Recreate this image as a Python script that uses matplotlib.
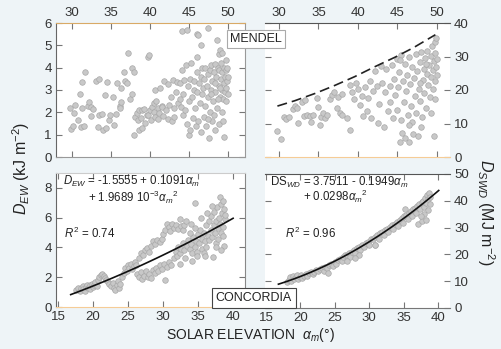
import numpy as np
import matplotlib.pyplot as plt

plt.rcParams['font.family'] = ['Liberation Sans', 'DejaVu Sans']
plt.rcParams['mathtext.fontset'] = 'custom'
plt.rcParams['mathtext.rm'] = 'Liberation Sans'
plt.rcParams['mathtext.it'] = 'Liberation Sans:italic'

# --- data ---
# MENDEL, D_EW (kJ m-2) vs solar elevation
mendel_ew = [
    (29.8, 2.2), (29.9, 1.25), (30.1, 1.38), (30.3, 1.95), (30.4, 2.35), (30.8, 1.65), (31.0, 2.8),
    (31.2, 1.34), (31.3, 3.35), (31.3, 2.2), (31.5, 1.4), (31.7, 3.8), (32.0, 2.3), (32.2, 2.45),
    (32.5, 2.25), (32.5, 1.85), (32.7, 2.15), (33.1, 3.4), (33.3, 1.34), (33.5, 3.5), (33.5, 1.88),
    (33.9, 1.93), (34.0, 1.2), (34.2, 2.78), (34.4, 1.3), (34.5, 3.36), (34.8, 1.66), (34.9, 1.88),
    (35.3, 2.7), (35.4, 1.43), (35.7, 1.93), (35.8, 3.3), (36.1, 2.28), (36.2, 2.2), (36.3, 2.46),
    (36.3, 3.1), (36.7, 3.8), (36.8, 3.4), (37.1, 3.3), (37.2, 4.66), (37.5, 2.6), (37.7, 2.8),
    (37.7, 4.0), (38.0, 3.8), (37.9, 0.98),
    (38.1, 1.8), (38.3, 1.95), (38.5, 1.66), (38.6, 2.1), (38.6, 1.2), (38.8, 1.75), (39.0, 2.1),
    (39.0, 1.3), (39.3, 2.15), (39.4, 1.52), (39.6, 1.9), (39.8, 1.88), (39.8, 4.5), (39.9, 4.57),
    (40.0, 2.1), (40.1, 1.65), (40.3, 2.25), (40.5, 2.0), (40.5, 2.4), (40.7, 1.8), (40.8, 2.5),
    (40.7, 3.0), (41.0, 2.2), (41.0, 1.7), (41.2, 1.95), (41.3, 3.1), (41.5, 2.3), (41.6, 2.25),
    (41.7, 1.85), (41.8, 3.4), (42.0, 2.1), (42.3, 1.7), (42.3, 3.25), (42.5, 2.35), (42.7, 2.7),
    (42.8, 1.6), (42.9, 3.45), (43.1, 2.2), (43.1, 1.8), (43.3, 2.9), (43.5, 3.35), (43.6, 2.4),
    (43.8, 2.6), (43.9, 3.3), (44.0, 2.25), (44.1, 3.9), (44.1, 5.62),
    (44.2, 1.9), (44.3, 2.8), (44.4, 3.45), (44.5, 2.1), (44.6, 4.1), (44.8, 5.7), (44.8, 1.5),
    (44.9, 3.2), (45.0, 1.0), (45.0, 2.5), (45.2, 3.5), (45.2, 1.2), (45.3, 4.2), (45.4, 2.7),
    (45.5, 1.75), (45.6, 3.0), (45.7, 3.4), (45.8, 2.2), (45.9, 1.4), (46.0, 5.5), (46.0, 3.8),
    (46.1, 4.48), (46.1, 2.9), (46.2, 5.45), (46.2, 1.6), (46.3, 3.3), (46.4, 2.4), (46.5, 5.0),
    (46.5, 3.6), (46.6, 1.1), (46.7, 2.8), (46.7, 4.0), (46.8, 3.1), (46.9, 1.8), (47.0, 3.5),
    (47.1, 2.3), (47.1, 4.0), (47.2, 1.4), (47.3, 3.2), (47.4, 2.7), (47.5, 5.78), (47.5, 3.7),
    (47.6, 0.85), (47.7, 2.0), (47.7, 3.9), (47.8, 3.0), (47.9, 4.1), (48.0, 1.6), (48.0, 3.4),
    (48.1, 2.5), (48.2, 3.8), (48.3, 4.15), (48.3, 1.2), (48.4, 2.9), (48.5, 3.6), (48.6, 5.24),
    (48.6, 2.2), (48.7, 4.0), (48.8, 3.2), (48.8, 4.6), (48.9, 1.5), (48.9, 3.9), (49.0, 2.7),
    (49.0, 4.8), (49.1, 3.5), (49.1, 4.2), (49.2, 2.0), (49.2, 3.0), (49.3, 3.8), (49.3, 4.66),
    (49.4, 2.6), (49.4, 1.6), (49.5, 3.3), (49.5, 0.9), (49.5, 4.0), (49.6, 2.9), (49.6, 3.6),
    (49.7, 4.34), (49.7, 3.1), (49.8, 2.5), (49.8, 3.9), (49.9, 3.4), (49.9, 3.99), (50.0, 2.8),
    (50.0, 3.6), (48.4, 3.3), (47.9, 2.8), (48.7, 2.6), (49.0, 3.1), (48.2, 1.9), (47.4, 1.7),
]

# MENDEL, D_SWD (MJ m-2) vs solar elevation
mendel_swd = [
    (29.8, 7.8), (30.2, 5.4), (30.6, 11.8), (30.9, 11.3), (31.3, 12.0), (31.8, 14.3), (32.0, 15.2),
    (32.3, 14.6), (32.4, 10.1), (32.9, 16.3), (33.2, 12.1), (33.3, 16.9), (33.5, 12.5), (33.9, 12.2),
    (34.1, 10.5), (34.3, 12.4), (34.8, 17.6), (35.0, 14.8), (35.2, 9.6), (35.3, 12.0), (35.6, 13.0),
    (35.8, 11.6), (36.1, 12.6), (36.5, 17.3), (36.7, 18.5), (37.0, 19.3), (37.3, 14.6), (37.5, 17.8),
    (37.7, 13.2), (38.0, 18.8), (38.0, 12.5), (38.6, 11.6), (39.0, 8.0), (39.0, 21.5), (39.3, 19.5),
    (39.5, 17.2), (39.8, 22.1), (40.0, 20.4), (40.2, 15.4), (40.5, 18.2), (40.6, 12.2), (40.9, 20.9),
    (41.1, 13.8), (41.3, 17.5), (41.5, 22.6), (41.6, 11.5), (41.9, 19.8), (42.2, 25.6), (42.4, 21.3),
    (42.5, 10.1), (42.7, 15.9), (42.9, 27.2), (43.1, 22.0), (43.3, 8.9), (43.4, 19.4), (43.6, 26.3),
    (43.8, 13.6), (44.0, 21.1), (44.1, 16.5), (44.3, 27.5), (44.4, 11.5), (44.6, 23.4), (44.7, 18.6),
    (44.9, 29.2), (45.0, 14.1), (45.1, 20.8), (45.2, 25.4), (45.4, 11.0), (45.5, 30.5), (45.6, 7.1),
    (45.7, 22.6), (45.8, 16.4), (45.9, 27.9), (46.0, 5.8), (46.1, 19.6), (46.2, 24.4), (46.3, 12.6),
    (46.4, 29.8), (46.5, 4.6), (46.6, 21.7), (46.7, 15.1), (46.8, 26.8), (46.9, 10.4), (47.0, 6.8),
    (47.1, 23.5), (47.2, 18.2), (47.3, 30.7), (47.4, 13.0), (47.5, 25.6), (47.6, 6.3), (47.7, 20.4),
    (47.8, 28.4), (47.9, 16.6), (48.0, 31.2), (48.1, 11.8), (48.2, 23.0), (48.3, 26.2), (48.4, 19.0),
    (48.5, 29.6), (48.6, 14.5), (48.7, 24.8), (48.8, 31.6), (48.9, 21.4), (49.0, 27.4), (49.1, 17.8),
    (49.2, 30.2), (49.3, 23.8), (49.4, 33.0), (49.5, 25.9), (49.5, 20.2), (49.6, 6.4), (49.6, 28.8),
    (49.7, 17.4), (49.7, 34.4), (49.8, 22.6), (49.8, 31.0), (49.9, 26.9), (49.9, 35.6), (50.0, 24.5),
    (50.0, 29.4), (48.6, 27.9), (47.9, 22.1), (49.3, 13.2), (48.0, 9.0), (46.5, 9.5), (45.3, 4.5),
    (45.3, 29.0),
]
# upper envelope (dashed)
envelope_x = [29.8, 32.0, 34.6, 37.0, 39.6, 42.0, 44.7, 47.0, 49.8]
envelope_y = [15.2, 16.8, 19.0, 21.3, 24.0, 26.8, 29.8, 32.6, 36.5]

# CONCORDIA, D_EW
concordia_ew = [
    (17.6, 1.15), (17.9, 1.3), (18.1, 1.1), (18.3, 1.25), (18.5, 1.4), (18.6, 1.2), (18.8, 1.05),
    (19.0, 1.35), (19.1, 1.5), (19.3, 1.3), (19.5, 1.2), (19.6, 1.45), (19.8, 1.55), (20.0, 1.35),
    (20.2, 1.5), (20.3, 1.65), (20.5, 1.4), (20.7, 1.8), (20.9, 2.0), (21.1, 2.15), (21.3, 2.25),
    (21.5, 2.1), (21.7, 1.95), (21.9, 1.8), (22.1, 1.7), (22.3, 1.55), (22.6, 1.4), (22.8, 1.6),
    (23.0, 1.3), (23.2, 1.15), (23.4, 1.45), (23.5, 1.75), (23.7, 1.25), (23.9, 1.55), (24.2, 2.0),
    (24.4, 2.3), (24.6, 2.6), (24.8, 2.45), (25.0, 2.8), (25.2, 2.65), (25.4, 2.9), (25.6, 2.55),
    (25.8, 2.75), (26.0, 3.0), (26.2, 2.85),
    (26.3, 2.2), (26.6, 2.0), (26.8, 2.35), (27.0, 1.85), (27.3, 2.1), (27.5, 2.4), (27.8, 2.0),
    (28.0, 2.25), (28.3, 1.95), (28.5, 2.5), (28.8, 2.3), (29.0, 2.65), (29.3, 2.4), (29.6, 2.8),
    (29.9, 2.55), (30.2, 2.9), (30.5, 2.7), (30.3, 1.8), (30.8, 3.0), (31.2, 2.85),
    (26.5, 3.3), (26.8, 3.6), (27.1, 3.5), (27.4, 3.8), (27.7, 3.95), (28.0, 3.7), (28.3, 4.1),
    (28.6, 4.4), (28.9, 4.2), (29.2, 4.5), (29.5, 4.35), (29.8, 4.6), (30.0, 4.9), (30.3, 5.2),
    (30.5, 5.55), (30.8, 5.4), (31.0, 5.1), (31.3, 5.6), (31.6, 5.3), (31.9, 5.5), (32.2, 5.25),
    (32.5, 5.45), (32.8, 5.15), (33.0, 5.5), (32.4, 5.9), (33.3, 5.8), (34.0, 5.6), (34.6, 7.0),
    (31.6, 3.3), (31.8, 3.7), (32.0, 3.4), (32.2, 4.0), (32.4, 3.6), (32.6, 3.9), (32.8, 4.3),
    (33.0, 3.8), (33.2, 3.3), (33.4, 4.1), (33.6, 4.5), (33.8, 3.9), (34.0, 4.2), (34.1, 3.6),
    (34.3, 4.7), (34.5, 4.0), (34.7, 4.4), (34.8, 3.7), (35.0, 4.9), (35.2, 4.3), (35.3, 5.2),
    (35.5, 4.6), (35.6, 3.9), (35.8, 5.0), (36.0, 4.4), (36.1, 5.5), (36.2, 4.0), (36.4, 4.8),
    (36.5, 5.8), (36.6, 4.5), (36.8, 5.2), (36.9, 6.1), (37.0, 4.7), (37.1, 3.35), (37.2, 5.5),
    (37.3, 6.4), (37.4, 5.0), (37.5, 4.3), (37.6, 5.8), (37.7, 6.7), (37.8, 5.3), (37.9, 4.6),
    (38.0, 6.0), (38.1, 7.4), (38.1, 5.6), (38.2, 6.9), (38.3, 5.0), (38.4, 6.3), (38.5, 5.4),
    (38.6, 4.8), (38.7, 6.6), (38.8, 5.9), (38.9, 6.2), (35.4, 6.0), (34.6, 5.3), (33.9, 5.0),
    (36.3, 6.3), (37.0, 6.8), (38.5, 7.1), (32.4, 2.9), (34.2, 3.1), (35.9, 3.6), (37.6, 4.0),
    (38.7, 4.1), (38.2, 3.8), (34.9, 3.4), (36.0, 3.4),
]

# CONCORDIA, D_SWD
concordia_swd = [
    (18.0, 9.8), (18.3, 10.6), (18.5, 11.4), (18.7, 10.2), (18.9, 11.8), (19.1, 10.9), (19.3, 11.5),
    (19.5, 12.2), (19.7, 10.8), (19.9, 11.6), (20.1, 12.4), (20.3, 11.3), (20.5, 12.0), (20.8, 12.6),
    (21.0, 12.1), (21.3, 12.9), (21.5, 13.4), (21.8, 12.8), (22.0, 13.6), (22.3, 14.2), (22.6, 13.7),
    (22.9, 14.5), (23.2, 14.9), (23.4, 13.9), (23.6, 15.3), (23.9, 14.8), (24.0, 13.2), (24.2, 15.9),
    (24.5, 16.4), (24.8, 15.7), (25.0, 17.2), (25.2, 16.6), (25.5, 17.8), (25.8, 18.3), (26.0, 17.6),
    (26.2, 19.0), (26.5, 19.6), (26.8, 19.8), (27.0, 20.4), (27.2, 19.2), (27.5, 21.0), (27.8, 21.5),
    (28.0, 20.6), (28.2, 22.3), (28.5, 22.8), (28.7, 21.8), (29.0, 23.5), (29.2, 22.6), (29.5, 24.2),
    (29.8, 24.8), (30.0, 23.6), (30.2, 25.6), (30.5, 25.9), (30.8, 23.5), (30.9, 26.6), (31.2, 27.2),
    (31.4, 25.8), (31.6, 27.8), (31.9, 28.5), (32.1, 27.2), (32.3, 29.1), (32.6, 29.6), (32.8, 28.2),
    (33.0, 30.4), (33.3, 30.9), (33.5, 29.5), (33.7, 31.5), (34.0, 32.2), (34.2, 30.6), (34.4, 32.9),
    (34.7, 33.4), (34.9, 31.8), (35.1, 34.2), (35.2, 37.0), (35.4, 34.8), (35.6, 33.2), (35.8, 35.6),
    (36.0, 36.2), (36.2, 34.4), (36.4, 36.9), (36.6, 37.5), (36.8, 35.6), (37.0, 38.2), (37.1, 31.5),
    (37.2, 38.8), (37.4, 36.8), (37.6, 39.4), (37.7, 32.5), (37.8, 40.1), (38.0, 37.8), (38.1, 41.0),
    (38.2, 33.0), (38.3, 39.2), (38.4, 42.3), (38.5, 40.6), (38.6, 36.5), (38.7, 43.0), (38.8, 41.5),
    (38.9, 38.8), (38.0, 35.0), (37.5, 34.5), (26.8, 17.5), (28.5, 19.8), (30.8, 23.5), (27.9, 18.7),
]

# regression coefficients printed on the chart
ew_coef = (-1.5555, 0.1091, 1.9689e-3)
swd_coef = (3.7511, -0.1949, 0.0298)
fit_range = (16.8, 40.0)

# --- figure ---
W, H = 502, 349
fig = plt.figure(figsize=(W / 100, H / 100), dpi=100)
fig.patch.set_facecolor('#eef4f7')


def box(l, t, w, h):
    return [l / W, 1 - (t + h) / H, w / W, h / H]


ax_tl = fig.add_axes(box(56, 23, 189, 134))
ax_tr = fig.add_axes(box(265, 23, 185, 134))
ax_bl = fig.add_axes(box(56, 173, 189, 134))
ax_br = fig.add_axes(box(265, 174, 185, 134))

pt_style = dict(s=16, facecolor='#c8c8c8', edgecolor='#a8a8a8', linewidths=0.5, zorder=3)
tick_col = '#333333'

for ax in (ax_tl, ax_tr, ax_bl, ax_br):
    ax.set_facecolor('white')
    ax.tick_params(direction='in', length=4, width=0.8, colors='#777777',
                   labelcolor=tick_col, labelsize=9.5, pad=3)

# top-left: MENDEL D_EW
p = np.array(mendel_ew)
ax_tl.scatter(p[:, 0], p[:, 1], **pt_style)
ax_tl.set_xlim(27.95, 52.2)
ax_tl.set_ylim(0, 6)
ax_tl.set_xticks([30, 35, 40, 45, 50])
ax_tl.set_yticks(range(0, 7))
ax_tl.tick_params(top=True, labeltop=True, bottom=True, labelbottom=False, right=True)
ax_tl.spines['top'].set_color('#d9aa66')
ax_tl.spines['left'].set_color('#666666')
ax_tl.spines['right'].set_color('#999999')
ax_tl.spines['bottom'].set_color('#999999')

# top-right: MENDEL D_SWD
p = np.array(mendel_swd)
ax_tr.scatter(p[:, 0], p[:, 1], **pt_style)
ax_tr.plot(envelope_x, envelope_y, color='#222222', lw=1.2, dashes=(6, 3), zorder=4)
ax_tr.set_xlim(28.23, 51.65)
ax_tr.set_ylim(0, 40)
ax_tr.set_xticks([30, 35, 40, 45, 50])
ax_tr.set_yticks(range(0, 41, 10))
ax_tr.tick_params(top=True, labeltop=True, bottom=True, labelbottom=False,
                  left=True, labelleft=False, right=True, labelright=True)
ax_tr.spines['top'].set_color('#555555')
ax_tr.spines['bottom'].set_color('#f6cc96')
ax_tr.spines['left'].set_visible(False)
ax_tr.spines['right'].set_visible(False)

# bottom-left: CONCORDIA D_EW
p = np.array(concordia_ew)
ax_bl.scatter(p[:, 0], p[:, 1], **pt_style)
xf = np.linspace(fit_range[0], fit_range[1], 100)
ax_bl.plot(xf, ew_coef[0] + ew_coef[1] * xf + ew_coef[2] * xf ** 2, color='#111111', lw=1.2, zorder=4)
ax_bl.set_xlim(14.7, 41.7)
ax_bl.set_ylim(0, 9)
ax_bl.set_xticks([15, 20, 25, 30, 35, 40])
ax_bl.set_yticks([0, 2, 4, 6, 8])
ax_bl.tick_params(top=True, right=True)
ax_bl.spines['left'].set_color('#666666')
ax_bl.spines['bottom'].set_color('#f6cc96')
ax_bl.spines['top'].set_color('#cccccc')
ax_bl.spines['right'].set_color('#888888')

# bottom-right: CONCORDIA D_SWD
p = np.array(concordia_swd)
ax_br.scatter(p[:, 0], p[:, 1], **pt_style)
xf = np.linspace(fit_range[0], 40.1, 100)
ax_br.plot(xf, swd_coef[0] + swd_coef[1] * xf + swd_coef[2] * xf ** 2, color='#111111', lw=1.2, zorder=4)
ax_br.set_xlim(14.85, 41.74)
ax_br.set_ylim(0, 50)
ax_br.set_xticks([15, 20, 25, 30, 35, 40])
ax_br.set_yticks(range(0, 51, 10))
ax_br.tick_params(top=True, left=True, labelleft=False, right=True, labelright=True)
ax_br.spines['top'].set_color('#555555')
ax_br.spines['bottom'].set_color('#777777')
ax_br.spines['left'].set_visible(False)
ax_br.spines['right'].set_visible(False)

# equations
eq_fs = 8.3
ax_bl.text(0.037, 0.94, r'$D_{EW}$ = -1.5555 + 0.1091$\alpha_m$', transform=ax_bl.transAxes,
           fontsize=eq_fs, va='center', ha='left', color='#222222')
ax_bl.text(0.17, 0.815, r'+ 1.9689 10$^{-3}$$\alpha_m$$^{2}$', transform=ax_bl.transAxes,
           fontsize=eq_fs, va='center', ha='left', color='#222222')
ax_bl.text(0.042, 0.55, r'$R^2$ = 0.74', transform=ax_bl.transAxes,
           fontsize=eq_fs, va='center', ha='left', color='#222222')
ax_br.text(0.027, 0.94, r'DS$_{WD}$ = 3.7511 - 0.1949$\alpha_m$', transform=ax_br.transAxes,
           fontsize=eq_fs, va='center', ha='left', color='#222222')
ax_br.text(0.205, 0.83, r'+ 0.0298$\alpha_m$$^{2}$', transform=ax_br.transAxes,
           fontsize=eq_fs, va='center', ha='left', color='#222222')
ax_br.text(0.108, 0.56, r'$R^2$ = 0.96', transform=ax_br.transAxes,
           fontsize=eq_fs, va='center', ha='left', color='#222222')

# site labels
fig.text(256 / W, 1 - 39 / H, 'MENDEL', fontsize=9, ha='center', va='center', color='#222222',
         bbox=dict(boxstyle='square,pad=0.25', facecolor='white', edgecolor='#aaaaaa', lw=0.8), zorder=10)
fig.text(254 / W, 1 - 298 / H, 'CONCORDIA', fontsize=9, ha='center', va='center', color='#222222',
         bbox=dict(boxstyle='square,pad=0.3', facecolor='white', edgecolor='#444444', lw=0.8), zorder=10)

# axis labels
fig.text(21 / W, 1 - 168 / H, r'$D_{EW}$ (kJ m$^{-2}$)', rotation=90, fontsize=11.5,
         ha='center', va='center', color='#222222')
fig.text(486 / W, 1 - 212 / H, r'$D_{SWD}$ (MJ m$^{-2}$)', rotation=270, fontsize=11.5,
         ha='center', va='center', color='#222222')
fig.text(250 / W, 1 - 335 / H, r'SOLAR ELEVATION  $\alpha_m$(°)', fontsize=10,
         ha='center', va='center', color='#222222')

fig.savefig('out.png', dpi=100, facecolor=fig.get_facecolor())
